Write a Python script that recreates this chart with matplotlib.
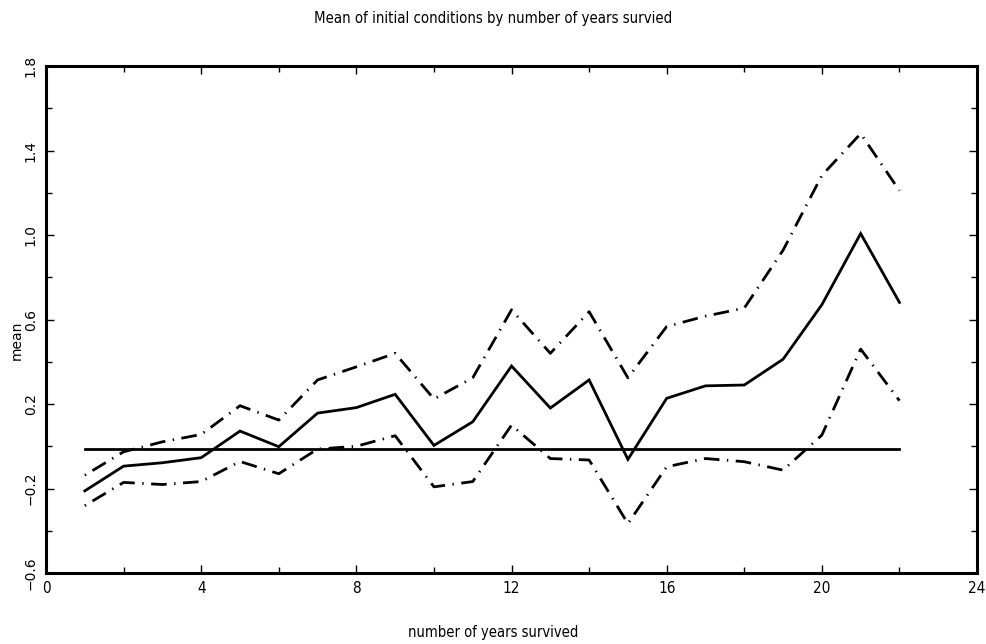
import matplotlib
matplotlib.use("Agg")
import matplotlib.pyplot as plt
from matplotlib.ticker import MultipleLocator, FixedLocator
from matplotlib import font_manager

years = list(range(1, 23))
mean_vals = [-0.211, -0.094, -0.078, -0.054, 0.072, -0.002, 0.157, 0.183, 0.246, 0.004,
             0.116, 0.380, 0.181, 0.314, -0.062, 0.227, 0.286, 0.290, 0.412, 0.670,
             1.007, 0.681]
upper_vals = [-0.137, -0.026, 0.021, 0.056, 0.192, 0.124, 0.314, 0.376, 0.440, 0.224,
              0.324, 0.646, 0.440, 0.637, 0.324, 0.567, 0.616, 0.654, 0.928, 1.282,
              1.480, 1.210]
lower_vals = [-0.281, -0.171, -0.181, -0.167, -0.072, -0.130, -0.013, 0.000, 0.050, -0.192,
              -0.167, 0.100, -0.058, -0.065, -0.366, -0.097, -0.058, -0.073, -0.113, 0.053,
              0.460, 0.216]
ref_level = -0.012
x_ticks = [0, 4, 8, 12, 16, 20, 24]
y_ticks = [-0.6, -0.2, 0.2, 0.6, 1.0, 1.4, 1.8]
y_tick_labels = ["\u22120.6", "\u22120.2", "0.2", "0.6", "1.0", "1.4", "1.8"]

names = {f.name for f in font_manager.fontManager.ttflist}
narrow = "DejaVu Sans"
for cand in ["Liberation Sans Narrow", "DejaVu Sans Condensed"]:
    if cand in names:
        narrow = cand
        break

fig = plt.figure(figsize=(9.86, 6.44), dpi=100)
ax = fig.add_axes([0.0467, 0.1102, 0.9442, 0.7873])

lw = 2.0
dashdot = (0, (0.5, 2.7, 5.6, 2.7))
ax.plot(years, mean_vals, color="black", lw=lw, solid_joinstyle="miter")
ax.plot(years, upper_vals, color="black", lw=lw, linestyle=dashdot)
ax.plot(years, lower_vals, color="black", lw=lw, linestyle=dashdot)
ax.plot([years[0], years[-1]], [ref_level, ref_level], color="black", lw=lw)

ax.set_xlim(0, 24)
ax.set_ylim(-0.6, 1.8)
ax.xaxis.set_major_locator(FixedLocator(x_ticks))
ax.xaxis.set_minor_locator(MultipleLocator(2))
ax.yaxis.set_major_locator(FixedLocator(y_ticks))
ax.yaxis.set_minor_locator(MultipleLocator(0.2))
ax.set_xticklabels([str(v) for v in x_ticks], fontfamily=narrow, fontstretch="condensed",
                   fontweight="light", fontsize=11)
ax.set_yticklabels(y_tick_labels, rotation=90, va="center", fontsize=10)

ax.tick_params(which="both", direction="in", top=True, right=True, width=1)
ax.tick_params(which="major", length=6, pad=6)
ax.tick_params(which="minor", length=4)
for s in ax.spines.values():
    s.set_linewidth(2.2)

fig.text(0.5, 0.972, "Mean of initial conditions by number of years survied",
         ha="center", va="center", fontfamily=narrow, fontstretch="condensed",
         fontweight="light", fontsize=10.7)
fig.text(0.5, 0.018, "number of years survived", ha="center", va="center",
         fontfamily=narrow, fontstretch="condensed", fontweight="light", fontsize=10.5)
fig.text(0.017, 0.472, "mean", rotation=90, ha="center", va="center", fontsize=10)

fig.savefig("out.png", dpi=100)
